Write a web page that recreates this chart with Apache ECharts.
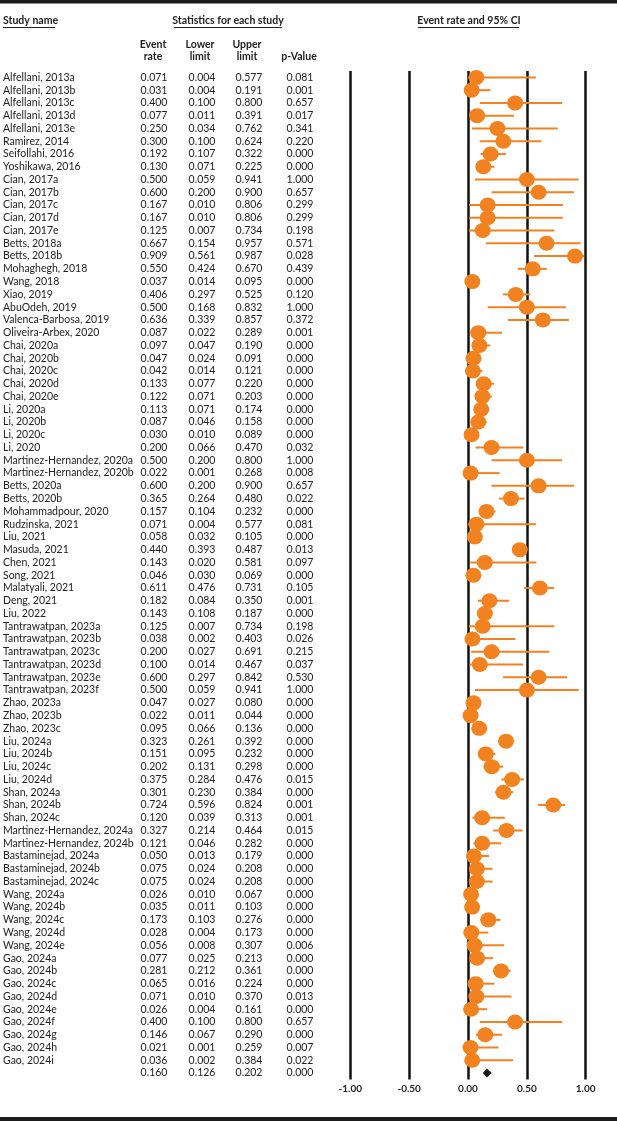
<!DOCTYPE html>
<html>
<head>
<meta charset="utf-8">
<script src="https://cdn.jsdelivr.net/npm/echarts@6/dist/echarts.min.js"></script>
<style>
html,body{margin:0;padding:0;background:#fff;}
#chart{width:617px;height:1121px;}
</style>
</head>
<body>
<div id="chart"></div>
<script>
const studies = [
"Alfellani, 2013a","Alfellani, 2013b","Alfellani, 2013c","Alfellani, 2013d","Alfellani, 2013e",
"Ramirez, 2014","Seifollahi, 2016","Yoshikawa, 2016","Cian, 2017a","Cian, 2017b","Cian, 2017c",
"Cian, 2017d","Cian, 2017e","Betts, 2018a","Betts, 2018b","Mohaghegh, 2018","Wang, 2018","Xiao, 2019",
"AbuOdeh, 2019","Valenca-Barbosa, 2019","Oliveira-Arbex, 2020","Chai, 2020a","Chai, 2020b","Chai, 2020c",
"Chai, 2020d","Chai, 2020e","Li, 2020a","Li, 2020b","Li, 2020c","Li, 2020",
"Martinez-Hernandez, 2020a","Martinez-Hernandez, 2020b","Betts, 2020a","Betts, 2020b","Mohammadpour, 2020",
"Rudzinska, 2021","Liu, 2021","Masuda, 2021","Chen, 2021","Song, 2021","Malatyali, 2021","Deng, 2021",
"Liu, 2022","Tantrawatpan, 2023a","Tantrawatpan, 2023b","Tantrawatpan, 2023c","Tantrawatpan, 2023d",
"Tantrawatpan, 2023e","Tantrawatpan, 2023f","Zhao, 2023a","Zhao, 2023b","Zhao, 2023c",
"Liu, 2024a","Liu, 2024b","Liu, 2024c","Liu, 2024d","Shan, 2024a","Shan, 2024b","Shan, 2024c",
"Martinez-Hernandez, 2024a","Martinez-Hernandez, 2024b","Bastaminejad, 2024a","Bastaminejad, 2024b",
"Bastaminejad, 2024c","Wang, 2024a","Wang, 2024b","Wang, 2024c","Wang, 2024d","Wang, 2024e",
"Gao, 2024a","Gao, 2024b","Gao, 2024c","Gao, 2024d","Gao, 2024e","Gao, 2024f","Gao, 2024g",
"Gao, 2024h","Gao, 2024i"
];
const eventRate = [
0.071,0.031,0.400,0.077,0.250,0.300,0.192,0.130,0.500,0.600,0.167,0.167,0.125,0.667,0.909,0.550,0.037,0.406,
0.500,0.636,0.087,0.097,0.047,0.042,0.133,0.122,0.113,0.087,0.030,0.200,0.500,0.022,0.600,0.365,0.157,
0.071,0.058,0.440,0.143,0.046,0.611,0.182,0.143,0.125,0.038,0.200,0.100,0.600,0.500,0.047,0.022,0.095,
0.323,0.151,0.202,0.375,0.301,0.724,0.120,0.327,0.121,0.050,0.075,0.075,0.026,0.035,0.173,0.028,0.056,
0.077,0.281,0.065,0.071,0.026,0.400,0.146,0.021,0.036
];
const lowerLimit = [
0.004,0.004,0.100,0.011,0.034,0.100,0.107,0.071,0.059,0.200,0.010,0.010,0.007,0.154,0.561,0.424,0.014,0.297,
0.168,0.339,0.022,0.047,0.024,0.014,0.077,0.071,0.071,0.046,0.010,0.066,0.200,0.001,0.200,0.264,0.104,
0.004,0.032,0.393,0.020,0.030,0.476,0.084,0.108,0.007,0.002,0.027,0.014,0.297,0.059,0.027,0.011,0.066,
0.261,0.095,0.131,0.284,0.230,0.596,0.039,0.214,0.046,0.013,0.024,0.024,0.010,0.011,0.103,0.004,0.008,
0.025,0.212,0.016,0.010,0.004,0.100,0.067,0.001,0.002
];
const upperLimit = [
0.577,0.191,0.800,0.391,0.762,0.624,0.322,0.225,0.941,0.900,0.806,0.806,0.734,0.957,0.987,0.670,0.095,0.525,
0.832,0.857,0.289,0.190,0.091,0.121,0.220,0.203,0.174,0.158,0.089,0.470,0.800,0.268,0.900,0.480,0.232,
0.577,0.105,0.487,0.581,0.069,0.731,0.350,0.187,0.734,0.403,0.691,0.467,0.842,0.941,0.080,0.044,0.136,
0.392,0.232,0.298,0.476,0.384,0.824,0.313,0.464,0.282,0.179,0.208,0.208,0.067,0.103,0.276,0.173,0.307,
0.213,0.361,0.224,0.370,0.161,0.800,0.290,0.259,0.384
];
const pValue = [
0.081,0.001,0.657,0.017,0.341,0.220,0.000,0.000,1.000,0.657,0.299,0.299,0.198,0.571,0.028,0.439,0.000,0.120,
1.000,0.372,0.001,0.000,0.000,0.000,0.000,0.000,0.000,0.000,0.000,0.032,1.000,0.008,0.657,0.022,0.000,
0.081,0.000,0.013,0.097,0.000,0.105,0.001,0.000,0.198,0.026,0.215,0.037,0.530,1.000,0.000,0.000,0.000,
0.000,0.000,0.000,0.015,0.000,0.001,0.001,0.015,0.000,0.000,0.000,0.000,0.000,0.000,0.000,0.000,0.006,
0.000,0.000,0.000,0.013,0.000,0.657,0.000,0.007,0.022
];
const summaryRate = 0.160, summaryLower = 0.126, summaryUpper = 0.202, summaryP = 0.000;
const xTicks = [-1.00, -0.50, 0.00, 0.50, 1.00];

const FONT = 'Lato';
const TXT = '#222';
const ORANGE = '#F2821F';

const rowNames = studies.concat(['']);
const colRate = eventRate.concat([summaryRate]);
const colLower = lowerLimit.concat([summaryLower]);
const colUpper = upperLimit.concat([summaryUpper]);
const colP = pValue.concat([summaryP]);
const nStudies = studies.length;

const gridLeft = 349.3, gridRight = 617 - 585.7, gridTop = 71, gridBottom = 1121 - 1079.4;

function colAxis(values, centerX, isName) {
  const ax = {
    type: 'category', inverse: true, data: rowNames, position: 'left',
    axisLine: {show: false}, axisTick: {show: false}, splitLine: {show: false},
    axisLabel: {
      interval: 0, color: TXT, fontFamily: FONT, fontSize: 10.5,
      formatter: function (v, i) { return isName ? v : values[i].toFixed(3); }
    }
  };
  if (isName) { ax.axisLabel.align = 'left'; ax.axisLabel.margin = gridLeft - 2; }
  else { ax.axisLabel.align = 'center'; ax.axisLabel.margin = gridLeft - centerX; }
  return ax;
}

const chart = echarts.init(document.getElementById('chart'));
const headStyle = {fill: TXT, font: 'bold 10.5px ' + FONT};
function headText(text, x, y, align) {
  return {type: 'text', x: x, y: y, style: Object.assign({text: text, align: align || 'center', verticalAlign: 'middle'}, headStyle)};
}
function uline(x1, x2, y) {
  return {type: 'line', shape: {x1: x1, y1: y, x2: x2, y2: y}, style: {stroke: '#222', lineWidth: 1}};
}

chart.setOption({
  animation: false,
  grid: {left: gridLeft, right: gridRight, top: gridTop, bottom: gridBottom, containLabel: false},
  xAxis: {
    type: 'value', min: -1, max: 1, interval: 0.5,
    axisLine: {show: false}, axisTick: {show: false},
    splitLine: {show: true, lineStyle: {color: '#111', width: 2.5}},
    axisLabel: {color: TXT, fontFamily: FONT, fontWeight: 'bold', fontSize: 10, margin: 4,
      formatter: function (v) { return v.toFixed(2); }}
  },
  yAxis: [
    colAxis(rowNames, 0, true),
    colAxis(colRate, 153),
    colAxis(colLower, 201),
    colAxis(colUpper, 248),
    colAxis(colP, 299)
  ],
  graphic: [
    {type: 'rect', shape: {x: 0, y: 0, width: 617, height: 3.5}, style: {fill: '#1c1c1c'}},
    {type: 'rect', shape: {x: 0, y: 1117, width: 617, height: 4}, style: {fill: '#1c1c1c'}},
    headText('Study name', 3, 21, 'left'), uline(3, 55, 27.5),
    headText('Statistics for each study', 228, 21), uline(174, 282, 27.5),
    headText('Event rate and 95% CI', 469, 21), uline(418, 519, 27.5),
    headText('Event', 153, 45), headText('rate', 153, 57),
    headText('Lower', 200, 45), headText('limit', 200, 57),
    headText('Upper', 247, 45), headText('limit', 247, 57),
    headText('p-Value', 299, 57)
  ],
  series: [
    {
      type: 'custom', yAxisIndex: 0,
      data: studies.map(function (s, i) { return [i, lowerLimit[i], upperLimit[i]]; }),
      renderItem: function (params, api) {
        const i = api.value(0);
        const p1 = api.coord([api.value(1), i]);
        const p2 = api.coord([api.value(2), i]);
        return {type: 'line', shape: {x1: p1[0], y1: p1[1], x2: p2[0], y2: p2[1]},
          style: {stroke: ORANGE, lineWidth: 2}};
      },
      z: 2
    },
    {
      type: 'scatter', yAxisIndex: 0, symbol: 'circle', symbolSize: [16, 15],
      itemStyle: {color: ORANGE, opacity: 1},
      data: studies.map(function (s, i) { return [eventRate[i], i]; }),
      z: 3
    },
    {
      type: 'custom', yAxisIndex: 0,
      data: [[nStudies, summaryRate, summaryLower, summaryUpper]],
      renderItem: function (params, api) {
        const i = api.value(0);
        const c = api.coord([api.value(1), i]);
        const l = api.coord([api.value(2), i]);
        const u = api.coord([api.value(3), i]);
        const h = 4.6;
        return {type: 'polygon', shape: {points: [[l[0], c[1]], [c[0], c[1] - h], [u[0], c[1]], [c[0], c[1] + h]]},
          style: {fill: '#1a1a1a'}};
      },
      z: 4
    }
  ]
});
</script>
</body>
</html>
